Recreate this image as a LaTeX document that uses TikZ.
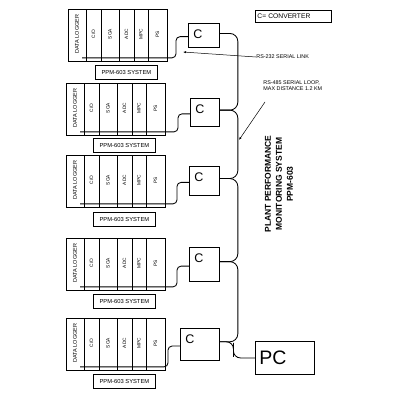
\documentclass[tikz,border=0pt]{standalone}
\usepackage{fontspec}
\setmainfont{Liberation Sans}
\usetikzlibrary{arrows.meta,positioning,calc}

\begin{document}
\begin{tikzpicture}[>={Latex[length=3pt,width=2.2pt]},x=1pt,y=-1pt,line width=0.85pt,
  box/.style={draw,inner sep=0pt,anchor=north west},
  col/.style={rotate=90,inner sep=0pt,font=\fontsize{4.8}{5}\selectfont},
  small/.style={inner sep=0pt,font=\fontsize{5.4}{6.3}\selectfont}]
\useasboundingbox (0,0) rectangle (400,400);
% five PPM-603 racks with their converters
\foreach \i/\rx/\t/\lt/\cx/\cw/\ct/\ch in {1/68/9/65/188/31/23/24,2/66/83/138/190/29/98/28,3/66/155/212/189/30/166/29,4/66/238/294/189/30/247/34,5/66/318/374/180/39/328/32}{
  \node[box,minimum width=99pt,minimum height=52pt] (rack\i) at (\rx,\t) {};
  \foreach \o in {18,33,51,66,80}
    \draw ($(rack\i.north west)+(\o,0)$) -- ($(rack\i.south west)+(\o,0)$);
  \node[col,font=\fontsize{5.5}{6}\selectfont] (dl\i) at ($(rack\i.north west)+(9,25)$) {DATA LOGGER};
  \foreach \s/\n in {25.5/{C/O},42/SGA,58.5/ADC,73/MPC,89.5/PS}
    \node[col] at ($(rack\i.north west)+(\s,25)$) {\n};
  \node[box,minimum width=62pt,minimum height=14pt,font=\fontsize{5.8}{6}\selectfont] (sys\i) at (\rx+27,\lt) {PPM-603 SYSTEM};
  \node[box,minimum width=\cw pt,minimum height=\ch pt,
    label={[anchor=north west,inner sep=0pt,xshift=5pt,yshift=-6pt,font=\fontsize{12.5}{13}\selectfont]north west:C}] (c\i) at (\cx,\ct) {};
  \coordinate (in\i) at ($(c\i.north west)!0.55!(c\i.south west)$);
  \coordinate (out\i) at ($(c\i.north east)!0.42!(c\i.south east)$);
  \draw[rounded corners=4pt] ($(rack\i.south west)+(14,-4)$) -| ($(in\i)+(-12,0)$) -- (in\i);
}
\node[draw,anchor=north west,minimum width=59pt,minimum height=33pt,text width=51pt,inner xsep=4pt,
  align=left,font=\fontsize{19.5}{20}\selectfont] (pc) at (255,341) {PC};
% RS-485 loop
\foreach \i/\j in {1/2,2/3,3/4,4/5}
  \draw[rounded corners=8pt] (out\i) -| ($(out\i)!.5!(out\j)+(18,0)$) |- (out\j);
\draw[rounded corners=7pt] (out5) -| ($(out5)!.5!(pc.west)+(-4,0)$) |- (pc.west);
% key and notes
\node[draw,anchor=north west,minimum width=76pt,minimum height=12pt,text width=72pt,inner xsep=2pt,
  inner ysep=0pt,align=left,font=\fontsize{6.7}{7}\selectfont] (key) at (255,10) {C= CONVERTER};
\node[small,anchor=west] (rs232) at (256,57) {RS-232 SERIAL LINK};
\coordinate (t232) at (183,52);
\draw[->,line width=0.5pt] (rs232.west) -- (t232);
\node[small,anchor=north west,align=left] (rs485) at (263,80) {RS-485 SERIAL LOOP,\\MAX DISTANCE 1.2 KM};
\coordinate (t485) at (239,140);
\draw[->,line width=0.5pt] ([shift={(2,11)}]rs485.south west) -- (t485);
\node[rotate=90,align=center,font=\bfseries\fontsize{8.5}{11}\selectfont] (ppm) at (279,184)
  {PLANT PERFORMANCE\\MONITORING SYSTEM\\PPM-603};
\end{tikzpicture}
\end{document}
